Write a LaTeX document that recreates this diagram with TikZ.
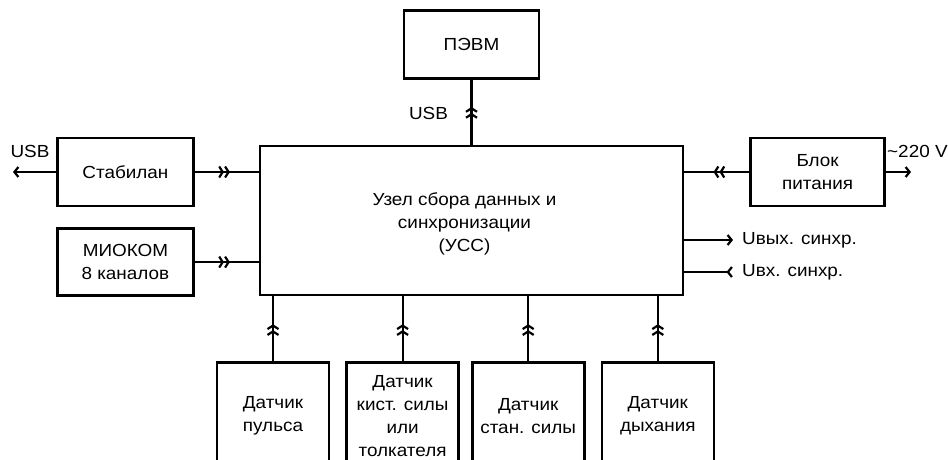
\documentclass[tikz,border=0pt]{standalone}
\usepackage{fontspec}
\setmainfont[FakeStretch=1.08]{Liberation Sans}
\usetikzlibrary{arrows.meta,positioning,calc,decorations.markings}

\begin{document}
\begin{tikzpicture}[x=1pt,y=-1pt,node distance=15pt,
    every node/.style={font=\fontsize{17.5}{23}\selectfont},
    box/.style={draw,line width=2.6pt,fill=white,minimum width=136pt,minimum height=68pt,align=center,inner sep=2pt},
    sensor/.style={box,minimum width=112pt,minimum height=106pt},
    wire/.style={line width=2.2pt},
    chev/.style={wire,postaction={decorate,decoration={markings,
        mark=at position #1 with {\arrow{Straight Barb[length=3.5pt,width=11pt] Straight Barb[length=3.5pt,width=11pt]}}}}},
    lbl/.style={inner sep=0pt}]
    \useasboundingbox (0,0) rectangle (948,460);
    \clip (0,0) rectangle (948,460);
    % central unit
    \node[box,minimum width=423pt,minimum height=149pt] (main) at (471.5,220.5) {};
    \node[align=center,inner sep=0pt] (mainlbl) at ([xshift=-7pt,yshift=-3pt]main.center) {Узел сбора данных и\\синхронизации\\(УСС)};
    \node[box,above=65pt of main,minimum width=135pt] (pevm) {ПЭВМ};
    \node[box,below left=-8pt and 64pt of main.north west] (stab) {Стабилан};
    \node[box,below=20pt of stab,minimum height=67pt] (miokom) {МИОКОМ\\8 каналов};
    \node[box,below right=-8pt and 65pt of main.north east,minimum width=134pt] (blok) {Блок\\питания};
    % sensors
    \node[sensor,below right=65pt and -43pt of main.south west] (pulse) {Датчик\\пульса};
    \node[sensor,right=15pt of pulse] (hand) {Датчик\\кист. силы\\или\\толкателя};
    \node[sensor,right=11pt of hand] (stan) {Датчик\\стан. силы};
    \node[sensor,right=15pt of stan] (breath) {Датчик\\дыхания};
    % free ends
    \coordinate (usbend) at (13,172);
    \coordinate (acend) at (911,172);
    \coordinate (uoutend) at (733,240);
    \coordinate (uinend) at (733,272);
    % connectors
    \draw[chev=0.58] (main.north -| pevm.south) -- (pevm.south);
    \draw[chev=0.55] (stab.east) -- (stab.east -| main.west);
    \draw[chev=0.55] (miokom.east) -- (miokom.east -| main.west);
    \draw[chev=0.55] (blok.west) -- (blok.west -| main.east);
    \foreach \s in {pulse,hand,stan,breath}
      \draw[chev=0.57] (\s.north) -- (\s.north |- main.south);
    \draw[wire,-{Straight Barb[length=4pt,width=10pt]}] (stab.west) -- (usbend);
    \draw[wire,-{Straight Barb[length=4pt,width=10pt]}] (blok.east) -- (acend);
    \draw[wire,-{Straight Barb[length=4pt,width=10pt]}] (uoutend -| main.east) -- (uoutend);
    \draw[wire,-{Straight Barb[length=4pt,width=10pt,reversed]}] (uinend -| main.east) -- (uinend);
    % labels
    \node[lbl] (usbtop) at (428.5,113) {USB};
    \node[lbl] (usbleft) at (30,151) {USB};
    \node[lbl,anchor=west] (ac) at (887,151) {\textasciitilde220 V};
    \node[lbl,right=9pt of uoutend] (uout) {Uвых. синхр.};
    \node[lbl,right=9pt of uinend] (uin) {Uвх. синхр.};
\end{tikzpicture}
\end{document}
